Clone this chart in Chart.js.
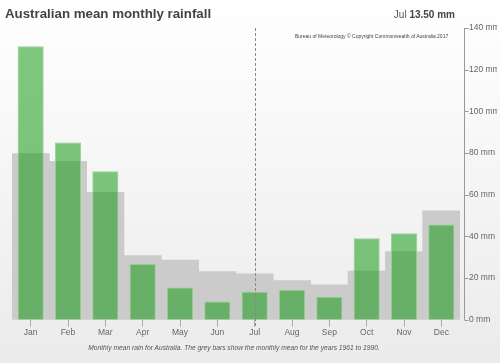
<!DOCTYPE html>
<html>
<head>
<meta charset="utf-8">
<script src="https://cdn.jsdelivr.net/npm/chart.js@4"></script>
<style>
  html, body { margin: 0; padding: 0; }
  body {
    width: 500px; height: 363px; overflow: hidden; position: relative;
    background: linear-gradient(#ffffff, #ebebeb);
    font-family: "Liberation Sans", Arial, sans-serif;
  }
  #wrap { position: absolute; left: 0; top: 0; width: 500px; height: 363px; }
  .title { position: absolute; left: 5px; top: 6px; font-size: 13.3px; font-weight: bold; color: #444; }
  .readout { position: absolute; right: 45px; top: 9px; font-size: 10px; color: #555; }
  .readout b { color: #444; }
  .credit { position: absolute; left: 295px; top: 33px; font-size: 5px; color: #444; }
  .caption { position: absolute; left: 0; width: 468px; text-align: center; top: 344px; font-size: 6.7px; font-style: italic; color: #555; }
</style>
</head>
<body>
<div id="wrap"><canvas id="rain" width="500" height="363"></canvas></div>
<div class="title">Australian mean monthly rainfall</div>
<div class="readout" id="readout"></div>
<div class="credit">Bureau of Meteorology © Copyright Commonwealth of Australia 2017</div>
<div class="caption">Monthly mean rain for Australia. The grey bars show the monthly mean for the years 1961 to 1990.</div>
<script>
const months = ['Jan', 'Feb', 'Mar', 'Apr', 'May', 'Jun', 'Jul', 'Aug', 'Sep', 'Oct', 'Nov', 'Dec'];
const rain = [131.3, 85.1, 71.3, 26.8, 15.5, 8.8, 13.5, 14.4, 11.1, 39.1, 41.5, 45.7];
const mean6190 = [79.7, 76.0, 61.2, 30.8, 28.7, 23.1, 22.0, 18.8, 16.8, 23.4, 32.7, 52.3];
const yTicks = [0, 20, 40, 60, 80, 100, 120, 140];
const hoverIdx = 6;

document.getElementById('readout').innerHTML =
  months[hoverIdx] + ' <b>' + rain[hoverIdx].toFixed(2) + ' mm</b>';

// right axis line + ticks, and the dashed hover line
const extras = {
  id: 'extras',
  afterDatasetsDraw(chart) {
    const c = chart.ctx, a = chart.chartArea, y = chart.scales.y, x = chart.scales.x;
    const ax = a.right + 4.5;
    c.save();
    c.strokeStyle = '#999';
    c.lineWidth = 1;
    c.beginPath();
    c.moveTo(ax, y.getPixelForValue(140));
    c.lineTo(ax, y.getPixelForValue(0));
    yTicks.forEach(v => {
      const py = Math.round(y.getPixelForValue(v)) + 0.5;
      c.moveTo(ax, py);
      c.lineTo(ax + 4, py);
    });
    c.stroke();

    const hx = Math.round(x.getPixelForValue(hoverIdx)) + 0.5;
    c.strokeStyle = '#888';
    c.setLineDash([3, 2]);
    c.beginPath();
    c.moveTo(hx, a.top);
    c.lineTo(hx, a.bottom + 8);
    c.stroke();
    c.restore();
  }
};

new Chart(document.getElementById('rain'), {
  type: 'bar',
  data: {
    labels: months,
    datasets: [{
      label: 'Rain',
      data: rain,
      order: 0,
      backgroundColor: 'rgba(24,153,24,0.55)',
      borderColor: 'rgba(140,210,140,0.9)',
      borderWidth: 1,
      barPercentage: 0.7,
      categoryPercentage: 1,
      grouped: false
    }, {
      label: 'Mean 1961-1990',
      data: mean6190,
      order: 1,
      backgroundColor: '#cbcbcb',
      borderWidth: 0,
      barPercentage: 1,
      categoryPercentage: 1,
      grouped: false
    }]
  },
  plugins: [extras],
  options: {
    responsive: false,
    animation: false,
    devicePixelRatio: 1,
    layout: { padding: { left: 12, top: 28, right: 3, bottom: 24 } },
    plugins: {
      legend: { display: false },
      tooltip: { enabled: false }
    },
    scales: {
      x: {
        grid: { offset: false, drawOnChartArea: false, color: '#aaa', tickLength: 7 },
        border: { display: false },
        ticks: {
          color: '#666', padding: 1, maxRotation: 0, autoSkip: false,
          font: { family: '"Liberation Sans", Arial, sans-serif', size: 8.5 }
        }
      },
      y: {
        position: 'right',
        min: 0, max: 140,
        afterBuildTicks(scale) { scale.ticks = yTicks.map(v => ({ value: v })); },
        afterFit(scale) { scale.width = 37; },
        grid: { display: false },
        border: { display: false },
        ticks: {
          color: '#666', padding: 1, autoSkip: false,
          font: { family: '"Liberation Sans", Arial, sans-serif', size: 8.5 },
          callback: v => v + ' mm'
        }
      }
    }
  }
});
</script>
</body>
</html>
